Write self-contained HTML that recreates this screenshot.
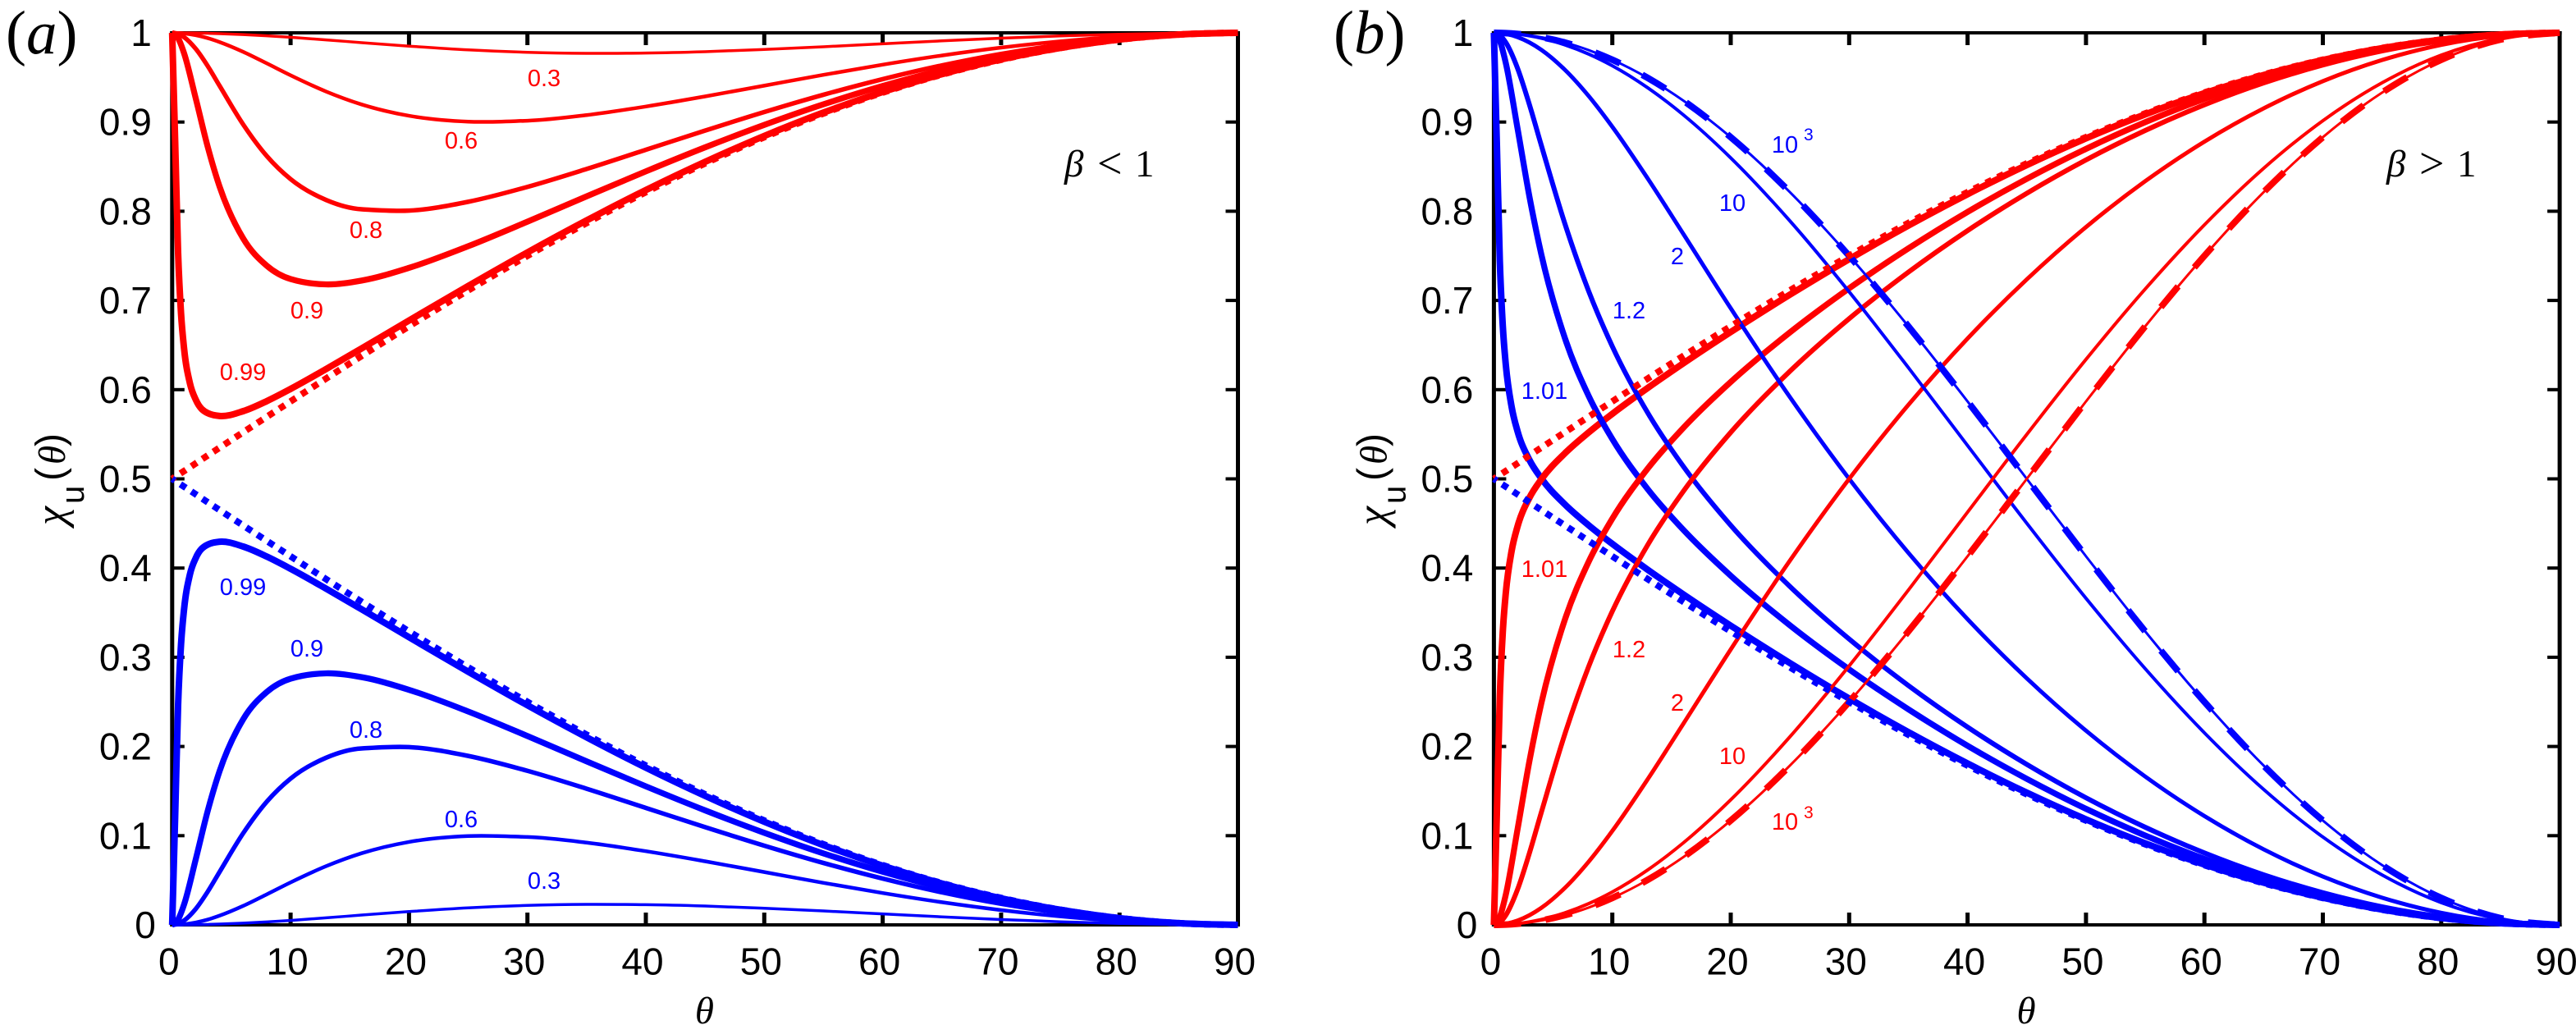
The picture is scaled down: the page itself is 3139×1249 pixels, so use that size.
<!DOCTYPE html>
<html lang="en">
<head>
<meta charset="utf-8">
<title>Panels (a) and (b): chi_u(theta)</title>
<style>
html,body{margin:0;padding:0;background:#fff;}
svg{display:block;}
text{font-family:"Liberation Sans",sans-serif;}
.serif{font-family:"Liberation Serif",serif;}
.note-red{fill:#f00;font-size:29px;text-anchor:middle;}
.note-blue{fill:#00f;font-size:29px;text-anchor:middle;}
.sup{font-size:21px;text-anchor:start;}
</style>
</head>
<body>
<svg id="figure" xmlns="http://www.w3.org/2000/svg" width="3139" height="1249" viewBox="0 0 3139 1249">
  <rect width="3139" height="1249" fill="#fff"/>
  <g id="panelA"></g>
  <g id="panelB"></g>

  <g>
    <text class="serif" x="7" y="65" font-size="75"><tspan>(</tspan><tspan font-style="italic">a</tspan><tspan>)</tspan></text>
    <text class="serif" y="215" font-size="47"><tspan x="1297" font-style="italic">β</tspan><tspan x="1337" y="217" font-size="54">&lt;</tspan><tspan x="1383" y="215">1</tspan></text>
    <text class="note-red" x="663" y="105">0.3</text>
    <text class="note-red" x="562" y="181">0.6</text>
    <text class="note-red" x="446" y="290">0.8</text>
    <text class="note-red" x="374" y="388">0.9</text>
    <text class="note-red" x="296" y="463">0.99</text>
    <text class="note-blue" x="296" y="725">0.99</text>
    <text class="note-blue" x="374" y="800">0.9</text>
    <text class="note-blue" x="446" y="899">0.8</text>
    <text class="note-blue" x="562" y="1008">0.6</text>
    <text class="note-blue" x="663" y="1083">0.3</text>
  </g>

  <g>
    <text class="serif" x="1625" y="65" font-size="75"><tspan>(</tspan><tspan font-style="italic">b</tspan><tspan>)</tspan></text>
    <text class="serif" y="215" font-size="47"><tspan x="2908" font-style="italic">β</tspan><tspan x="2948" y="217" font-size="54">&gt;</tspan><tspan x="2994" y="215">1</tspan></text>
    <text class="note-blue" x="2175" y="186">10<tspan class="sup" x="2198" y="171">3</tspan></text>
    <text class="note-blue" x="2111" y="257">10</text>
    <text class="note-blue" x="2044" y="322">2</text>
    <text class="note-blue" x="1985" y="388">1.2</text>
    <text class="note-blue" x="1882" y="486">1.01</text>
    <text class="note-red" x="1882" y="703">1.01</text>
    <text class="note-red" x="1985" y="801">1.2</text>
    <text class="note-red" x="2044" y="866">2</text>
    <text class="note-red" x="2111" y="931">10</text>
    <text class="note-red" x="2175" y="1011">10<tspan class="sup" x="2198" y="997">3</tspan></text>
  </g>
</svg>

<script>
const thetaValues = [0,0.5,1,2,3,4,6,8,10,13,16,20,25,30,35,40,45,50,55,60,65,70,75,80,85,90];
const thetaNearOne = [0,0.25,0.5,0.75,1,1.5,2,3,4,6,8,10,13,16,20,25,30,35,40,45,50,55,60,65,70,75,80,85,90];
const xTickLabels = [0,10,20,30,40,50,60,70,80,90];
const yTickLabels = [0,0.1,0.2,0.3,0.4,0.5,0.6,0.7,0.8,0.9,1];

const blueBeta03 = [0,0,.0001,.0002,.0005,.0009,.0019,.0033,.0050,.0079,.0110,.0149,.0191,.0218,.0230,.0226,.0211,.0186,.0156,.0123,.0090,.0060,.0035,.0016,.0004,0];
const redBeta03 = [1,1,.9999,.9998,.9995,.9991,.9981,.9967,.9950,.9921,.9890,.9851,.9809,.9782,.9770,.9774,.9789,.9814,.9844,.9877,.9910,.9940,.9965,.9984,.9996,1];
const blueBeta06 = [0,.0002,.0007,.0027,.0059,.0103,.0213,.0343,.0476,.0658,.0803,.0930,.0996,.0985,.0922,.0826,.0713,.0592,.0471,.0357,.0254,.0166,.0095,.0042,.0011,0];
const redBeta06 = [1,.9998,.9993,.9973,.9941,.9897,.9787,.9657,.9524,.9342,.9197,.9070,.9004,.9015,.9078,.9174,.9287,.9408,.9529,.9643,.9746,.9834,.9905,.9958,.9989,1];
const blueBeta08 = [0,.0012,.0048,.0181,.0372,.0593,.1028,.1383,.1640,.1874,.1978,.1993,.1894,.1727,.1526,.1311,.1096,.0888,.0694,.0519,.0365,.0236,.0134,.0060,.0015,0];
const redBeta08 = [1,.9988,.9952,.9819,.9628,.9407,.8972,.8617,.8360,.8126,.8022,.8007,.8106,.8273,.8474,.8689,.8904,.9112,.9306,.9481,.9635,.9764,.9866,.9940,.9985,1];
const blueBeta09 = [0,.0060,.0227,.0740,.1277,.1722,.2306,.2612,.2760,.2820,.2777,.2635,.2392,.2117,.1833,.1553,.1284,.1032,.0801,.0596,.0418,.0270,.0153,.0068,.0017,0];
const redBeta09 = [1,.9940,.9773,.9260,.8723,.8278,.7694,.7388,.7240,.7180,.7223,.7365,.7608,.7883,.8167,.8447,.8716,.8968,.9199,.9404,.9582,.9730,.9847,.9932,.9983,1];
const blueBeta099 = [0,.1210,.2467,.3147,.3533,.3929,.4115,.4263,.4295,.4241,.4128,.3992,.3769,.3538,.3225,.2838,.2462,.2103,.1763,.1447,.1156,.0894,.0663,.0464,.0298,.0169,.0075,.0019,0];
const redBeta099 = [1,.8790,.7533,.6853,.6467,.6071,.5885,.5737,.5705,.5759,.5872,.6008,.6231,.6462,.6775,.7162,.7538,.7897,.8237,.8553,.8844,.9106,.9337,.9536,.9702,.9831,.9925,.9981,1];
const blueLimit = [.5,.4956,.4913,.4826,.4738,.4651,.4477,.4304,.4132,.3875,.3622,.3290,.2887,.25,.2132,.1786,.1464,.1170,.0904,.0670,.0468,.0302,.0170,.0076,.0019,0];
const redLimit = [.5,.5044,.5087,.5174,.5262,.5349,.5523,.5696,.5868,.6125,.6378,.6710,.7113,.75,.7868,.8214,.8536,.8830,.9096,.9330,.9532,.9698,.9830,.9924,.9981,1];
const blueBeta101 = [1,.8744,.7439,.6716,.6286,.5805,.5532,.5212,.5006,.4713,.4480,.4271,.3980,.3705,.3354,.2935,.2537,.2161,.1809,.1482,.1183,.0914,.0677,.0473,.0305,.0172,.0077,.0019,0];
const redBeta101 = [0,.1256,.2561,.3284,.3714,.4195,.4468,.4788,.4994,.5287,.5520,.5729,.6020,.6295,.6646,.7065,.7463,.7839,.8191,.8518,.8817,.9086,.9323,.9527,.9695,.9828,.9923,.9981,1];
const blueBeta11 = [1,.9910,.9664,.8926,.8164,.7519,.6576,.5930,.5446,.4883,.4428,.3914,.3358,.2864,.2417,.2008,.1637,.1301,.1002,.0740,.0517,.0332,.0187,.0083,.0021,0];
const redBeta11 = [0,.0090,.0336,.1074,.1836,.2481,.3424,.4070,.4554,.5117,.5572,.6086,.6642,.7136,.7583,.7992,.8363,.8699,.8998,.9260,.9483,.9668,.9813,.9917,.9979,1];
const blueBeta12 = [1,.9973,.9893,.9602,.9195,.8741,.7858,.7105,.6485,.5738,.5139,.4479,.3793,.3204,.2683,.2217,.1799,.1425,.1095,.0807,.0562,.0361,.0203,.0091,.0023,0];
const redBeta12 = [0,.0027,.0107,.0398,.0805,.1259,.2142,.2895,.3515,.4262,.4861,.5521,.6207,.6796,.7317,.7783,.8201,.8575,.8905,.9193,.9438,.9639,.9797,.9909,.9977,1];
const blueBeta2 = [1,.9997,.9988,.9952,.9892,.9810,.9585,.9292,.8947,.8365,.7745,.6912,.5916,.5,.4171,.3427,.2764,.2177,.1663,.1220,.0847,.0542,.0305,.0135,.0034,0];
const redBeta2 = [0,.0003,.0012,.0048,.0108,.0190,.0415,.0708,.1053,.1635,.2255,.3088,.4084,.5,.5829,.6573,.7236,.7823,.8337,.8780,.9153,.9458,.9695,.9865,.9966,1];
const blueBeta10 = [1,.9999,.9996,.9985,.9966,.9940,.9865,.9762,.9631,.9383,.9080,.8598,.7891,.7097,.6247,.5373,.4502,.3661,.2872,.2153,.1519,.0985,.0560,.0250,.0063,0];
const redBeta10 = [0,.0001,.0004,.0015,.0034,.0060,.0135,.0238,.0369,.0617,.0920,.1402,.2109,.2903,.3753,.4627,.5498,.6339,.7128,.7847,.8481,.9015,.9440,.9750,.9937,1];
const blueBeta1000 = [1,.9999,.9997,.9988,.9973,.9951,.9891,.9806,.9698,.9494,.9240,.8830,.8214,.75,.6710,.5868,.5,.4132,.3290,.25,.1786,.1170,.0670,.0302,.0076,0];
const redBeta1000 = [0,.0001,.0003,.0012,.0027,.0049,.0109,.0194,.0302,.0506,.0760,.1170,.1786,.25,.3290,.4132,.5,.5868,.6710,.75,.8214,.8830,.9330,.9698,.9924,1];

const NS = 'http://www.w3.org/2000/svg';
const PLOT_TOP = 40, PLOT_BOTTOM = 1127, PX_PER_DEG = 14.43;

function makeX(left) { return function (theta) { return left + theta * PX_PER_DEG; }; }
function yScale(chi) { return PLOT_BOTTOM - chi * (PLOT_BOTTOM - PLOT_TOP); }
function sign(v) { return v < 0 ? -1 : 1; }

function smoothPath(xs, ys) {
  const n = xs.length, m = new Array(n);
  for (let i = 1; i < n - 1; i++) {
    const h0 = xs[i] - xs[i-1], h1 = xs[i+1] - xs[i];
    const s0 = (ys[i] - ys[i-1]) / h0, s1 = (ys[i+1] - ys[i]) / h1;
    const p = (s0 * h1 + s1 * h0) / (h0 + h1);
    if (s0 * s1 < 0) {
      m[i] = p;
    } else {
      m[i] = (sign(s0) + sign(s1)) * Math.min(Math.abs(s0), Math.abs(s1), 0.5 * Math.abs(p)) || 0;
    }
  }
  m[0] = (3 * (ys[1] - ys[0]) / (xs[1] - xs[0]) - m[1]) / 2;
  m[n-1] = (3 * (ys[n-1] - ys[n-2]) / (xs[n-1] - xs[n-2]) - m[n-2]) / 2;
  let d = 'M' + xs[0].toFixed(2) + ' ' + ys[0].toFixed(2);
  for (let i = 0; i < n - 1; i++) {
    const dx = (xs[i+1] - xs[i]) / 3;
    d += 'C' + (xs[i] + dx).toFixed(2) + ' ' + (ys[i] + dx * m[i]).toFixed(2) + ' ' +
         (xs[i+1] - dx).toFixed(2) + ' ' + (ys[i+1] - dx * m[i+1]).toFixed(2) + ' ' +
         xs[i+1].toFixed(2) + ' ' + ys[i+1].toFixed(2);
  }
  return d;
}

function axisRect(group, x, y, w, h, name) {
  const r = document.createElementNS(NS, 'rect');
  r.setAttribute('x', x);
  r.setAttribute('y', y);
  r.setAttribute('width', w);
  r.setAttribute('height', h);
  r.setAttribute('fill', '#000');
  
  
  group.appendChild(r);
}

function tickText(group, x, y, anchor, label, name) {
  const t = document.createElementNS(NS, 'text');
  t.setAttribute('x', x);
  t.setAttribute('y', y);
  t.setAttribute('font-size', '46');
  t.setAttribute('text-anchor', anchor);
  t.setAttribute('fill', '#000');
  
  
  t.textContent = label;
  group.appendChild(t);
}

function drawAxes(group, left) {
  const x = makeX(left), right = x(90);
  axisRect(group, left - 2.5, PLOT_TOP - 2, 5, PLOT_BOTTOM - PLOT_TOP + 4, 'left-axis-line');
  axisRect(group, right - 2.5, PLOT_TOP - 2, 5, PLOT_BOTTOM - PLOT_TOP + 4, 'right-axis-line');
  axisRect(group, left - 2.5, PLOT_TOP - 2, right - left + 5, 4, 'top-axis-line');
  axisRect(group, left - 2.5, PLOT_BOTTOM - 2, right - left + 5, 4, 'bottom-axis-line');
  xTickLabels.forEach(function (v) {
    if (v > 0 && v < 90) {
      axisRect(group, x(v) - 2.5, PLOT_BOTTOM - 15, 5, 15, 'x-tick-bottom');
      axisRect(group, x(v) - 2.5, PLOT_TOP, 5, 15, 'x-tick-top');
    }
    tickText(group, x(v) - 4, 1187.5, 'middle', String(v), 'x-tick-label');
  });
  yTickLabels.forEach(function (v) {
    const y = yScale(v);
    if (v > 0 && v < 1) {
      axisRect(group, left, y - 2, 15, 4, 'y-tick-left');
      axisRect(group, right - 15, y - 2, 15, 4, 'y-tick-right');
    }
    tickText(group, left - 25 + (v === 0 ? 5 : 0), y + 16, 'end', String(v), 'y-tick-label');
  });

  const xt = document.createElementNS(NS, 'text');
  xt.setAttribute('x', left + 648.6);
  xt.setAttribute('y', 1247);
  xt.setAttribute('font-size', '47');
  xt.setAttribute('font-style', 'italic');
  xt.setAttribute('text-anchor', 'middle');
  xt.setAttribute('class', 'serif');
  
  
  xt.textContent = 'θ';
  group.appendChild(xt);

  const yt = document.createElementNS(NS, 'text');
  yt.setAttribute('transform', 'translate(' + (left - 130.8) + ',640) rotate(-90)');
  
  
  yt.innerHTML = '<tspan class="serif" x="0" y="0" font-style="italic" font-size="52">χ</tspan>' +
    '<tspan x="26" y="23" font-size="40">u</tspan>' +
    '<tspan x="54" y="-2" font-size="48">(</tspan>' +
    '<tspan class="serif" x="74" y="0" font-style="italic" font-size="47">θ</tspan>' +
    '<tspan x="96" y="-2" font-size="48">)</tspan>';
  group.appendChild(yt);
}

function drawCurve(group, left, thetas, values, color, width, dash, dashShift, name) {
  const x = makeX(left);
  const p = document.createElementNS(NS, 'path');
  p.setAttribute('d', smoothPath(thetas.map(x), values.map(yScale)));
  p.setAttribute('fill', 'none');
  p.setAttribute('stroke', color);
  p.setAttribute('stroke-width', width);
  p.setAttribute('stroke-linejoin', 'round');
  if (dash) {
    p.setAttribute('stroke-dasharray', dash);
    p.setAttribute('stroke-dashoffset', dashShift);
  }
  
  
  group.appendChild(p);
}

const RED = '#ff0000', BLUE = '#0000ff';
const LEFT_A = 209.8, LEFT_B = 1820.4;
const panelA = document.getElementById('panelA');
const panelB = document.getElementById('panelB');

drawAxes(panelA, LEFT_A);
drawAxes(panelB, LEFT_B);

drawCurve(panelA, LEFT_A, thetaValues, blueBeta03, BLUE, 3.5, null, 0, 'curve-a-blue-0.3');
drawCurve(panelA, LEFT_A, thetaValues, redBeta03, RED, 3.5, null, 0, 'curve-a-red-0.3');
drawCurve(panelA, LEFT_A, thetaValues, blueBeta06, BLUE, 4.5, null, 0, 'curve-a-blue-0.6');
drawCurve(panelA, LEFT_A, thetaValues, redBeta06, RED, 4.5, null, 0, 'curve-a-red-0.6');
drawCurve(panelA, LEFT_A, thetaValues, blueBeta08, BLUE, 5.5, null, 0, 'curve-a-blue-0.8');
drawCurve(panelA, LEFT_A, thetaValues, redBeta08, RED, 5.5, null, 0, 'curve-a-red-0.8');
drawCurve(panelA, LEFT_A, thetaValues, blueBeta09, BLUE, 7.3, null, 0, 'curve-a-blue-0.9');
drawCurve(panelA, LEFT_A, thetaValues, redBeta09, RED, 7.3, null, 0, 'curve-a-red-0.9');
drawCurve(panelA, LEFT_A, thetaNearOne, blueBeta099, BLUE, 8, null, 0, 'curve-a-blue-0.99');
drawCurve(panelA, LEFT_A, thetaNearOne, redBeta099, RED, 8, null, 0, 'curve-a-red-0.99');
drawCurve(panelA, LEFT_A, thetaValues, redLimit, RED, 8, '8 8', 4, 'curve-a-red-limit-dotted');
drawCurve(panelA, LEFT_A, thetaValues, blueLimit, BLUE, 8, '8 8', 4, 'curve-a-blue-limit-dotted');

drawCurve(panelB, LEFT_B, thetaNearOne, blueBeta101, BLUE, 8, null, 0, 'curve-b-blue-1.01');
drawCurve(panelB, LEFT_B, thetaNearOne, redBeta101, RED, 8, null, 0, 'curve-b-red-1.01');
drawCurve(panelB, LEFT_B, thetaValues, blueBeta11, BLUE, 7.3, null, 0, 'curve-b-blue-1.1');
drawCurve(panelB, LEFT_B, thetaValues, redBeta11, RED, 7.3, null, 0, 'curve-b-red-1.1');
drawCurve(panelB, LEFT_B, thetaValues, blueBeta12, BLUE, 6, null, 0, 'curve-b-blue-1.2');
drawCurve(panelB, LEFT_B, thetaValues, redBeta12, RED, 6, null, 0, 'curve-b-red-1.2');
drawCurve(panelB, LEFT_B, thetaValues, blueBeta2, BLUE, 5, null, 0, 'curve-b-blue-2');
drawCurve(panelB, LEFT_B, thetaValues, redBeta2, RED, 5, null, 0, 'curve-b-red-2');
drawCurve(panelB, LEFT_B, thetaValues, blueBeta10, BLUE, 4, null, 0, 'curve-b-blue-10');
drawCurve(panelB, LEFT_B, thetaValues, redBeta10, RED, 4, null, 0, 'curve-b-red-10');
drawCurve(panelB, LEFT_B, thetaValues, blueBeta1000, BLUE, 3, null, 0, 'curve-b-blue-1000-thin');
drawCurve(panelB, LEFT_B, thetaValues, blueBeta1000, BLUE, 8, '33 30.3', 0, 'curve-b-blue-1000-dashed');
drawCurve(panelB, LEFT_B, thetaValues, redBeta1000, RED, 3, null, 0, 'curve-b-red-1000-thin');
drawCurve(panelB, LEFT_B, thetaValues, redBeta1000, RED, 8, '33 30.3', 0, 'curve-b-red-1000-dashed');
drawCurve(panelB, LEFT_B, thetaValues, redLimit, RED, 8, '8 8', 4, 'curve-b-red-limit-dotted');
drawCurve(panelB, LEFT_B, thetaValues, blueLimit, BLUE, 8, '8 8', 4, 'curve-b-blue-limit-dotted');
</script>
</body>
</html>
